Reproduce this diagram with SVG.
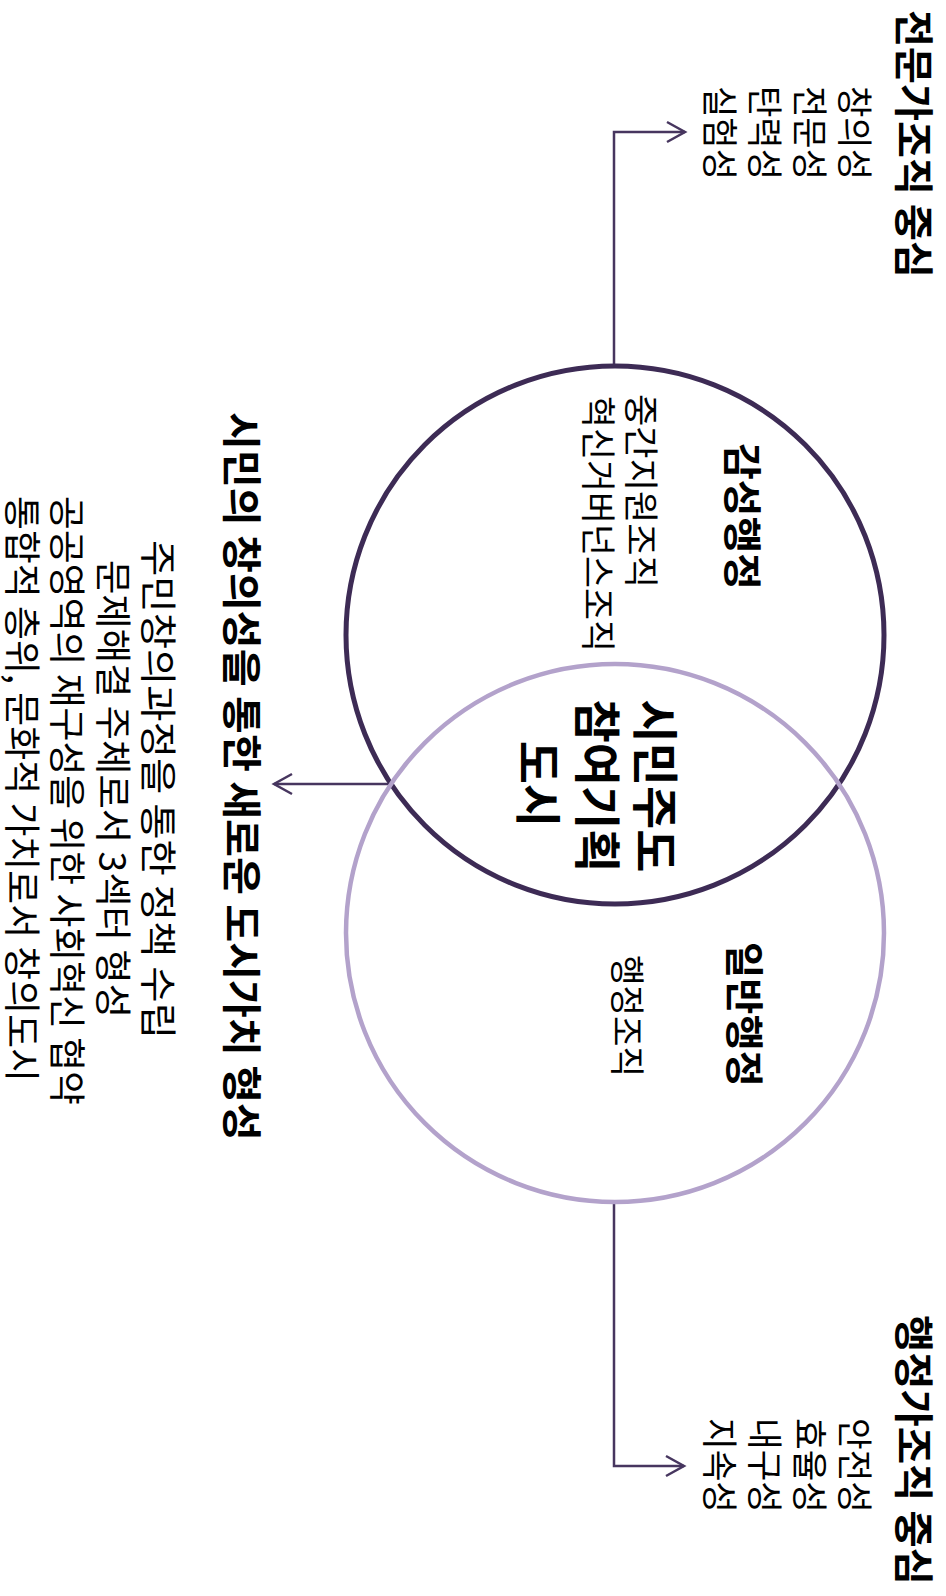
<svg xmlns="http://www.w3.org/2000/svg" width="946" height="1596" viewBox="0 0 946 1596">
<style>
text{font-family:"Noto Sans CJK KR","Noto Sans",sans-serif;fill:#000;dominant-baseline:central}
.b{font-weight:700}
.h1{font-size:40px}
.h2{font-size:39px}
.c{font-size:47px;text-anchor:middle}
.l{font-size:36px}
.s{font-size:35px}
.bd{font-size:37px}
.con{fill:none;stroke:#47365f;stroke-width:2.5}
</style>
<defs>
<marker id="arr" markerUnits="userSpaceOnUse" markerWidth="24" markerHeight="26" viewBox="-20 -12 24 24" refX="0" refY="0" orient="auto">
<path d="M-18,-10 L0,0 L-18,10" fill="none" stroke="#47365f" stroke-width="2.5"/>
</marker>
</defs>
<rect width="946" height="1596" fill="#fff"/>
<g transform="translate(946,0) rotate(90)">
<g id="connectors">
<path class="con" d="M366,332 L132,332 L132,261" marker-end="url(#arr)"/>
<path class="con" d="M1203,332 L1466,332 L1466,262" marker-end="url(#arr)"/>
<path class="con" d="M784,556 L784,672" marker-end="url(#arr)"/>
</g>
<g id="circle-gamseong">
<circle cx="635" cy="331" r="269" fill="none" stroke="#3d2b55" stroke-width="5"/>
<text class="b h2" x="443" y="201" textLength="147" lengthAdjust="spacingAndGlyphs">감성행정</text>
<text class="s" x="394" y="303" textLength="194" lengthAdjust="spacingAndGlyphs">중간지원조직</text>
<text class="s" x="396" y="346" textLength="256" lengthAdjust="spacingAndGlyphs">혁신거버넌스조직</text>
</g>
<g id="circle-ilban">
<circle cx="933" cy="331" r="269" fill="none" stroke="#b3a2cb" stroke-width="4.5"/>
<text class="b h2" x="942" y="199" textLength="145" lengthAdjust="spacingAndGlyphs">일반행정</text>
<text class="s" x="955" y="317" textLength="122" lengthAdjust="spacingAndGlyphs">행정조직</text>
</g>
<g id="center">
<text class="b c" x="786" y="288">시민주도</text>
<text class="b c" x="786" y="346">참여기획</text>
<text class="b c" x="784" y="405">도시</text>
</g>
<g id="expert">
<text class="b h1" x="10" y="30" textLength="268" lengthAdjust="spacingAndGlyphs">전문가조직 중심</text>
<text class="l" x="86" y="89" textLength="94" lengthAdjust="spacingAndGlyphs">창의성</text>
<text class="l" x="86" y="134" textLength="94" lengthAdjust="spacingAndGlyphs">전문성</text>
<text class="l" x="86" y="179" textLength="94" lengthAdjust="spacingAndGlyphs">탄력성</text>
<text class="l" x="86" y="224" textLength="94" lengthAdjust="spacingAndGlyphs">실험성</text>
</g>
<g id="admin">
<text class="b h1" x="1315" y="30" textLength="270" lengthAdjust="spacingAndGlyphs">행정가조직 중심</text>
<text class="l" x="1418" y="89" textLength="95" lengthAdjust="spacingAndGlyphs">안전성</text>
<text class="l" x="1418" y="134" textLength="95" lengthAdjust="spacingAndGlyphs">효율성</text>
<text class="l" x="1418" y="179" textLength="95" lengthAdjust="spacingAndGlyphs">내구성</text>
<text class="l" x="1418" y="224" textLength="95" lengthAdjust="spacingAndGlyphs">지속성</text>
</g>
<g id="citizen">
<text class="b h1" x="412" y="702" textLength="729" lengthAdjust="spacingAndGlyphs">시민의 창의성을 통한 새로운 도시가치 형성</text>
<text class="bd" x="540" y="786" textLength="499" lengthAdjust="spacingAndGlyphs">주민창의과정을 통한 정책 수립</text>
<text class="bd" x="560" y="831" textLength="458" lengthAdjust="spacingAndGlyphs">문제해결 주체로서 3섹터 형성</text>
<text class="bd" x="496" y="877" textLength="609" lengthAdjust="spacingAndGlyphs">공공영역의 재구성을 위한 사회혁신 협약</text>
<text class="bd" x="496" y="922" textLength="586" lengthAdjust="spacingAndGlyphs">통합적 층위, 문화적 가치로서 창의도시</text>
</g>
</g>
</svg>
